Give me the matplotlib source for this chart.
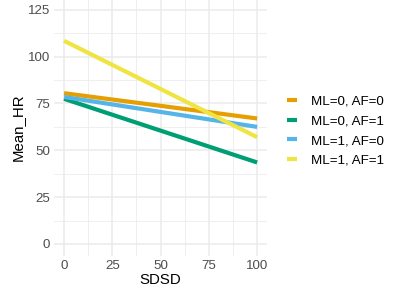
import matplotlib
matplotlib.use("Agg")
import matplotlib.pyplot as plt
from matplotlib.lines import Line2D
import numpy as np

plt.rcParams['font.family'] = ['Liberation Sans', 'DejaVu Sans']

# data: fitted lines at SDSD = 0 and SDSD = 100
sdsd = [0, 100]
groups = ['ML=0, AF=0', 'ML=0, AF=1', 'ML=1, AF=0', 'ML=1, AF=1']
hr_ml0_af0 = [80.5, 67.0]
hr_ml0_af1 = [77.5, 43.5]
hr_ml1_af0 = [78.5, 62.5]
hr_ml1_af1 = [108.5, 57.0]
colors = ['#E69F00', '#009E73', '#56B4E9', '#F0E442']

xticks = [0, 25, 50, 75, 100]
yticks = [0, 25, 50, 75, 100, 125]

fig = plt.figure(figsize=(4, 3), dpi=100)
ax = fig.add_axes([0.136, 0.148, 0.531, 0.858])

for x in np.arange(-12.5, 113, 12.5):
    ax.axvline(x, color='#EBEBEB', lw=1.1 if x in xticks else 0.55, zorder=0)
for y in np.arange(-12.5, 140, 12.5):
    ax.axhline(y, color='#EBEBEB', lw=1.1 if y in yticks else 0.55, zorder=0)

series = [hr_ml0_af0, hr_ml0_af1, hr_ml1_af0, hr_ml1_af1]
for vals, c, g in zip(series, colors, groups):
    ax.plot(sdsd, vals, color=c, lw=3, solid_capstyle='butt', label=g)

ax.set_xlim(-5, 105)
ax.set_ylim(-6.25, 131.25)
ax.set_xticks(xticks)
ax.set_yticks(yticks)
ax.tick_params(length=0, labelsize=9.6, labelcolor='#4D4D4D', pad=3)
for s in ax.spines.values():
    s.set_visible(False)
ax.set_xlabel('SDSD', fontsize=10.8, labelpad=1)
ax.set_ylabel('Mean_HR', fontsize=10.8, labelpad=2)

handles = [Line2D([0], [0], color=c, lw=3, solid_capstyle='butt') for c in colors]
fig.legend(handles, groups, loc='center left', bbox_to_anchor=(0.7, 0.563),
           frameon=False, fontsize=9.6, handlelength=0.8, handletextpad=1.0,
           labelspacing=0.55, borderpad=0)

fig.savefig('out.png', dpi=100, facecolor='white')
